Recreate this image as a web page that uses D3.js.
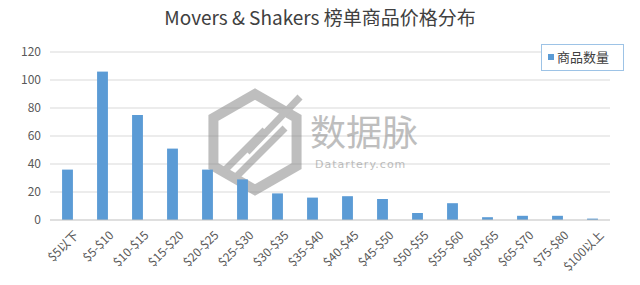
<!DOCTYPE html>
<html><head><meta charset="utf-8">
<script src="https://cdn.jsdelivr.net/npm/d3@7"></script>
<style>body{margin:0;background:#fff}svg{display:block}</style>
</head><body>
<script>
const categories = ["$5以下","$5-$10","$10-$15","$15-$20","$20-$25","$25-$30","$30-$35","$35-$40","$40-$45","$45-$50","$50-$55","$55-$60","$60-$65","$65-$70","$75-$80","$100以上"];
const counts = [36,106,75,51,36,29,19,16,17,15,5,12,2,3,3,1];
const yTicks = [0,20,40,60,80,100,120];
const seriesName = "商品数量";
const title = "Movers & Shakers 榜单商品价格分布";

const W = 640, H = 285;
const m = {left:50, right:30, top:52, bottom:65};
const svg = d3.select("body").append("svg").attr("width",W).attr("height",H);
const font = "'Noto Sans CJK SC','Noto Sans',sans-serif";

const x = d3.scaleBand().domain(categories).range([m.left, W-m.right]).paddingInner(0.69).paddingOuter(0.345);
const y = d3.scaleLinear().domain([0,120]).range([H-m.bottom, m.top]);

// gridlines
svg.append("g").selectAll("line").data(yTicks.filter(d=>d>0)).join("line")
  .attr("x1",m.left).attr("x2",W-m.right)
  .attr("y1",d=>y(d)).attr("y2",d=>y(d))
  .attr("stroke","#d9d9d9").attr("stroke-width",1);

// y labels
svg.append("g").selectAll("text").data(yTicks).join("text")
  .attr("x",41).attr("y",d=>y(d)).attr("dy","0.35em")
  .attr("text-anchor","end").attr("font-family",font).attr("font-size",12).attr("fill","#595959")
  .text(d=>d);

// watermark
const wm = svg.append("g").attr("opacity",0.5);
const hx = 255, hy = 142, hr = 48;
const hexPts = d3.range(6).map(i=>{const a = Math.PI/3*i - Math.PI/2; return [hx+hr*Math.cos(a), hy+hr*Math.sin(a)];});
wm.append("polygon").attr("points",hexPts.map(p=>p.join(",")).join(" "))
  .attr("fill","none").attr("stroke","#7f7f7f").attr("stroke-width",10);
wm.append("path").attr("d",`M${hx-30},${hy+28} L${hx+10},${hy-12} M${hx-18},${hy+34} L${hx+30},${hy-14} M${hx-8},${hy+10} L${hx+45},${hy-45}`)
  .attr("stroke","#7f7f7f").attr("stroke-width",7).attr("fill","none");
wm.append("text").attr("x",310).attr("y",146).attr("font-family",font).attr("font-size",36).attr("fill","#7f7f7f").text("数据脉");
wm.append("text").attr("x",315).attr("y",168).attr("font-family","'DejaVu Sans',sans-serif").attr("font-size",11).attr("letter-spacing",1).attr("fill","#7f7f7f").text("Datartery.com");

// bars
svg.append("g").selectAll("rect").data(counts).join("rect")
  .attr("x",(d,i)=>x(categories[i])).attr("width",x.bandwidth())
  .attr("y",d=>y(d)).attr("height",d=>y(0)-y(d))
  .attr("fill","#5b9bd5");

// baseline
svg.append("line").attr("x1",m.left).attr("x2",W-m.right).attr("y1",y(0)).attr("y2",y(0)).attr("stroke","#bfbfbf");

// x labels
svg.append("g").selectAll("text").data(categories).join("text")
  .attr("transform",d=>`translate(${x(d)+x.bandwidth()/2+6},${y(0)+10}) rotate(-45)`)
  .attr("text-anchor","end").attr("dy","0.7em")
  .attr("font-family",font).attr("font-size",12).attr("fill","#595959")
  .text(d=>d);

// title
svg.append("text").attr("x",W/2).attr("y",25).attr("text-anchor","middle")
  .attr("font-family","'Noto Sans CJK SC',sans-serif").attr("font-size",19).attr("fill","#404040").text(title);

// legend
const lg = svg.append("g");
lg.append("rect").attr("x",541.5).attr("y",44.5).attr("width",82).attr("height",26).attr("fill","#fff").attr("stroke","#9dc3e6");
lg.append("rect").attr("x",548).attr("y",54).attr("width",6).attr("height",6).attr("fill","#5b9bd5");
lg.append("text").attr("x",557).attr("y",57).attr("dy","0.35em").attr("font-family",font).attr("font-size",13).attr("fill","#404040").text(seriesName);
</script>
</body></html>
